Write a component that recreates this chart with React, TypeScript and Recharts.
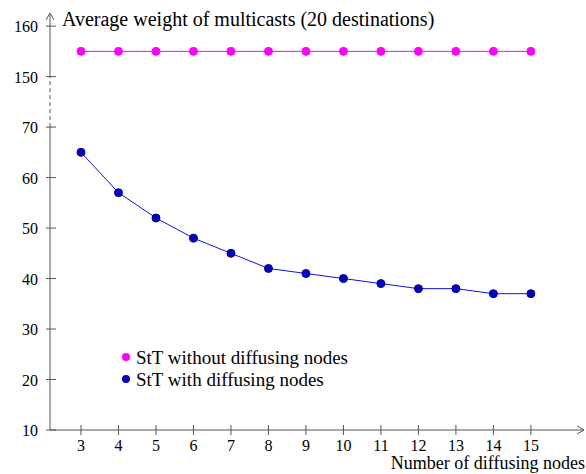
import { LineChart, Line, XAxis, YAxis, ReferenceLine } from "recharts";

const nodes = [3, 4, 5, 6, 7, 8, 9, 10, 11, 12, 13, 14, 15];
const withoutDiffusing = [155, 155, 155, 155, 155, 155, 155, 155, 155, 155, 155, 155, 155];
const withDiffusing = [65, 57, 52, 48, 45, 42, 41, 40, 39, 38, 38, 37, 37];
const yTicks = [10, 20, 30, 40, 50, 60, 70, 150, 160];

const series = [
  { key: "without", name: "StT without diffusing nodes", color: "#ff00ff", dotStroke: "#ff00ff", values: withoutDiffusing },
  { key: "with", name: "StT with diffusing nodes", color: "#1010e8", dotFill: "#0000c8", dotStroke: "#00008c", values: withDiffusing },
];

// broken y axis: everything above the gap (70..150) is shifted down by 70
const GAP = 70;
const toAxis = (v: number) => (v > 100 ? v - GAP : v);
const fromAxis = (v: number) => (v > 75 ? v + GAP : v);

const X_MIN = 2.173;
const X_MAX = 16.39;
const Y_MAX = 92.4;

const data = nodes.map((n, i) => ({
  n,
  without: toAxis(withoutDiffusing[i]),
  with: toAxis(withDiffusing[i]),
}));

const FONT = "Liberation Serif, DejaVu Serif, serif";
const txt = { fontFamily: FONT };

const XTick = (props: any) => {
  const { x, y, payload } = props;
  return (
    <g>
      <line x1={x} x2={x} y1={y - 5} y2={y + 5} stroke="#555" />
      <text x={x} y={y + 21} textAnchor="middle" style={txt} fontSize={16} fill="#000">
        {payload.value}
      </text>
    </g>
  );
};

const YTick = (props: any) => {
  const { x, y, payload } = props;
  return (
    <g>
      <line x1={x - 4} x2={x + 6} y1={y} y2={y} stroke="#555" />
      <text x={x - 12} y={y + 6} textAnchor="end" style={txt} fontSize={16} fill="#000">
        {fromAxis(payload.value)}
      </text>
    </g>
  );
};

export default function App() {
  return (
    <div style={{ width: 586, height: 474, background: "#fff" }}>
      <style>{"body{margin:0}"}</style>
      <LineChart width={586} height={474} data={data} margin={{ top: 14, right: 3, bottom: 0, left: 0 }}>
        <XAxis
          dataKey="n"
          type="number"
          domain={[X_MIN, X_MAX]}
          ticks={nodes}
          interval={0}
          allowDataOverflow
          height={44}
          axisLine={{ stroke: "#555" }}
          tickLine={false}
          tickSize={0}
          tickMargin={0}
          tick={<XTick />}
        />
        <YAxis
          type="number"
          domain={[10, Y_MAX]}
          ticks={yTicks.map(toAxis)}
          interval={0}
          allowDataOverflow
          width={50}
          axisLine={false}
          tickLine={false}
          tickSize={0}
          tickMargin={0}
          tick={<YTick />}
        />
        <ReferenceLine segment={[{ x: X_MIN, y: 10 }, { x: X_MIN, y: 70 }]} stroke="#555" ifOverflow="visible" />
        <ReferenceLine
          segment={[{ x: X_MIN, y: 70 }, { x: X_MIN, y: 80 }]}
          stroke="#555"
          strokeDasharray="4 3"
          ifOverflow="visible"
        />
        <ReferenceLine segment={[{ x: X_MIN, y: 80 }, { x: X_MIN, y: Y_MAX }]} stroke="#555" ifOverflow="visible" />
        {series.map((s) => (
          <Line
            key={s.key}
            dataKey={s.key}
            name={s.name}
            stroke={s.color}
            strokeWidth={1}
            dot={{ r: 4, fill: s.dotFill || s.color, stroke: s.dotStroke, strokeWidth: 1 }}
            isAnimationActive={false}
          />
        ))}
        <g>
          <path d="M 46 20 L 50 13 L 54 20" fill="none" stroke="#555" />
          <path d="M 577 426 L 584 430 L 577 434" fill="none" stroke="#555" />
          <text x={62} y={26} style={txt} fontSize={20} fill="#000">
            Average weight of multicasts (20 destinations)
          </text>
          <text x={585} y={469} textAnchor="end" style={txt} fontSize={18} fill="#000">
            Number of diffusing nodes
          </text>
          {series.map((s, i) => (
            <g key={s.key}>
              <circle cx={126} cy={357 + i * 22} r={4} fill={s.dotFill || s.color} />
              <text x={136} y={364 + i * 22} style={txt} fontSize={19} fill="#000">
                {s.name}
              </text>
            </g>
          ))}
        </g>
      </LineChart>
    </div>
  );
}
